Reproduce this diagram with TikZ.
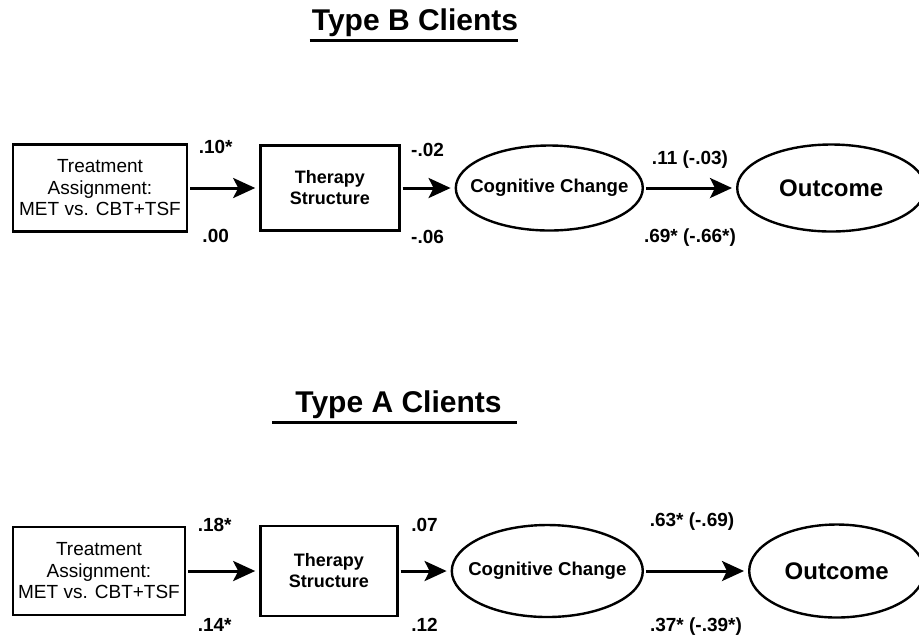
\documentclass[tikz,border=0pt]{standalone}
\usepackage{fontspec}
\setmainfont{Liberation Sans}
\usetikzlibrary{arrows.meta,positioning,shapes.geometric}

\begin{document}
\begin{tikzpicture}[
    x=0.5pt, y=-0.5pt,
    every node/.style={font=\fontsize{9.5}{10.75}\selectfont},
    box/.style={draw, line width=1.2pt, inner sep=0pt, align=center},
    oval/.style={draw, ellipse, line width=1.2pt, inner xsep=-8pt, inner ysep=0pt,
                 font=\fontsize{9.3}{11}\selectfont\bfseries},
    heading/.style={inner sep=0pt, anchor=base, font=\fontsize{15}{18}\selectfont\bfseries},
    coef/.style={inner sep=0pt, font=\fontsize{9.5}{11}\selectfont\bfseries},
    arrow/.style={-{Stealth[length=11pt, width=10pt, inset=2.5pt]}, line width=1.5pt,
                  shorten >=2pt, shorten <=1pt}
]
    \useasboundingbox (0,0) rectangle (919,634);

    \node[heading] (titleB) at (415,30) {Type B Clients};
    \draw[line width=1.5pt] ([shift={(-2,10)}]titleB.base west) -- ([shift={(0,10)}]titleB.base east);

    \node[box, minimum width=87pt, minimum height=43.5pt] (assignB) at (100,188)
        {Treatment\\Assignment:\\MET vs. CBT+TSF};
    \node[box, right=35.5pt of assignB, minimum width=69.5pt, minimum height=42.5pt,
          font=\fontsize{9}{10.5}\selectfont\bfseries] (structB) {Therapy\\Structure};
    \node[oval, right=27pt of structB, minimum width=93.5pt, minimum height=42.5pt] (cogB) {Cognitive Change};
    \node[oval, right=46pt of cogB, minimum width=94pt, minimum height=43.5pt,
          font=\fontsize{12}{14}\selectfont\bfseries] (outB) {Outcome};

    \draw[arrow] (assignB) -- (structB)
        node[coef, midway, xshift=-4pt, yshift=20.5pt] (aB1) {.10*}
        node[coef, midway, xshift=-4pt, yshift=-24pt] (bB1) {.00};
    \draw[arrow] (structB) -- (cogB)
        node[coef, midway, yshift=19pt] (aB2) {-.02}
        node[coef, midway, yshift=-24.5pt] (bB2) {-.06};
    \draw[arrow] (cogB) -- (outB)
        node[coef, midway, yshift=14pt] (aB3) {.11 (-.03)}
        node[coef, midway, yshift=-25pt] (bB3) {.69* (-.66*)};

    \node[heading] (titleA) at (398.5,412) {Type A Clients};
    \draw[line width=1.5pt] ([shift={(-23,10)}]titleA.base west) -- ([shift={(15,10)}]titleA.base east);

    \node[box, minimum width=86pt, minimum height=44pt] (assignA) at (99,571)
        {Treatment\\Assignment:\\MET vs. CBT+TSF};
    \node[box, right=36.5pt of assignA, minimum width=68.5pt, minimum height=45pt,
          font=\fontsize{9}{10.5}\selectfont\bfseries] (structA) {Therapy\\Structure};
    \node[oval, right=26pt of structA, minimum width=95.5pt, minimum height=46pt] (cogA) {Cognitive Change};
    \node[oval, right=52pt of cogA, minimum width=87.5pt, minimum height=46.5pt,
          font=\fontsize{12}{14}\selectfont\bfseries] (outA) {Outcome};

    \draw[arrow] (assignA) -- (structA)
        node[coef, midway, xshift=-4pt, yshift=23pt] (aA1) {.18*}
        node[coef, midway, xshift=-4pt, yshift=-27pt] (bA1) {.14*};
    \draw[arrow] (structA) -- (cogA)
        node[coef, midway, yshift=23pt] (aA2) {.07}
        node[coef, midway, yshift=-27pt] (bA2) {.12};
    \draw[arrow] (cogA) -- (outA)
        node[coef, midway, xshift=-2pt, yshift=24.5pt] (aA3) {.63* (-.69)}
        node[coef, midway, yshift=-28pt] (bA3) {.37* (-.39*)};

\end{tikzpicture}
\end{document}
